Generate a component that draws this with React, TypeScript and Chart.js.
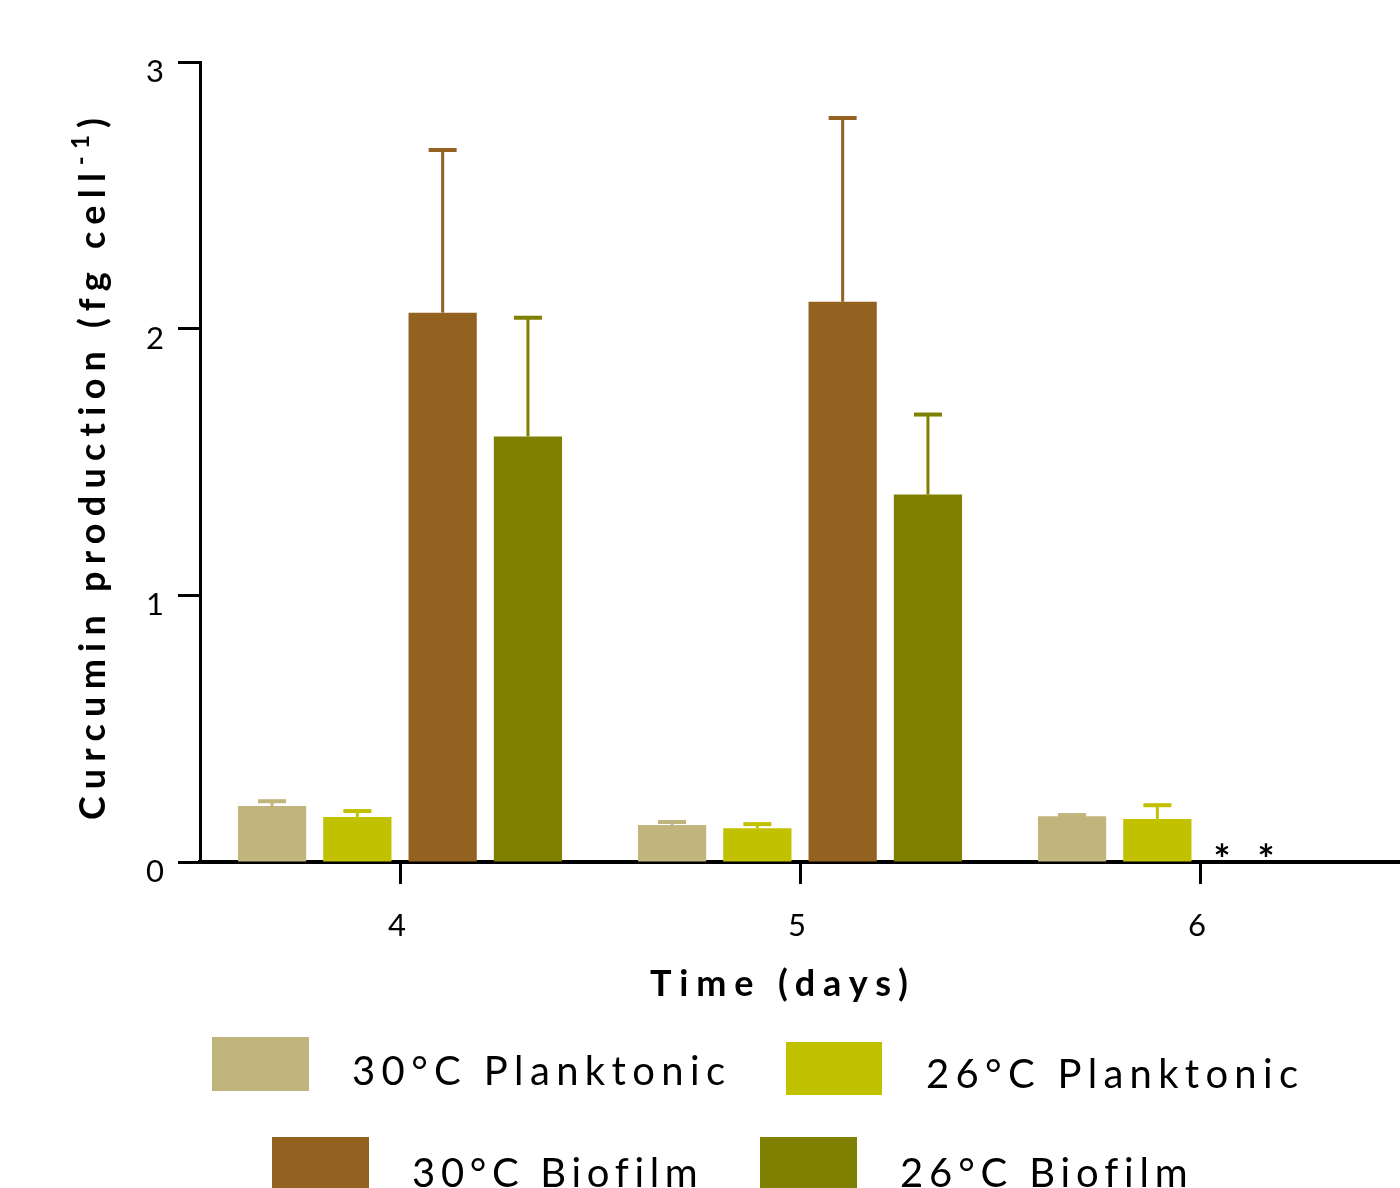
import React, { useEffect, useRef } from "react";
import { Chart, registerables } from "chart.js";

Chart.register(...registerables);

// ---- data ----
const days = ["4", "5", "6"];
const seriesLabels = ["30°C Planktonic", "26°C Planktonic", "30°C Biofilm", "26°C Biofilm"];
const seriesColors = ["#C0B67D", "#C2C100", "#946220", "#808000"];

const planktonic30 = [0.21, 0.139, 0.172];
const planktonic30Err = [0.018, 0.011, 0.004];
const planktonic26 = [0.169, 0.127, 0.161];
const planktonic26Err = [0.022, 0.015, 0.052];
const biofilm30 = [2.06, 2.101, null];
const biofilm30Err = [0.61, 0.689, null];
const biofilm26 = [1.596, 1.378, null];
const biofilm26Err = [0.445, 0.3, null];

const yTickValues = [0, 1, 2, 3];
// "*" marks: not detected (day 6, biofilm series)
const notDetectedDay = "6";
const notDetectedMarks = ["*", "*"];

const yTitleMain = "Curcumin production (fg cell";
const yTitleSup = "-1";
const yTitleEnd = ")";
const xTitle = "Time (days)";

const FONT = "Lato, 'Open Sans', sans-serif";

function spacedText(ctx: CanvasRenderingContext2D, text: string, x: number, y: number, target: number) {
  (ctx as any).letterSpacing = "0px";
  const w0 = ctx.measureText(text).width;
  const s = text.length > 1 ? (target - w0) / (text.length - 1) : 0;
  (ctx as any).letterSpacing = s + "px";
  ctx.fillText(text, x, y);
  (ctx as any).letterSpacing = "0px";
}

const errorBarPlugin = {
  id: "errorBars",
  afterDatasetsDraw(chart: any) {
    const ctx = chart.ctx;
    const yScale = chart.scales.y;
    const errs = [planktonic30Err, planktonic26Err, biofilm30Err, biofilm26Err];
    chart.data.datasets.forEach((ds: any, di: number) => {
      const meta = chart.getDatasetMeta(di);
      meta.data.forEach((bar: any, i: number) => {
        const v = ds.data[i];
        const e = errs[di][i];
        if (v == null || e == null) return;
        const yTop = yScale.getPixelForValue(v);
        const yErr = yScale.getPixelForValue(v + e);
        ctx.save();
        ctx.fillStyle = seriesColors[di];
        ctx.fillRect(bar.x - 1.5, yErr, 3, yTop - yErr);
        ctx.fillRect(bar.x - 14, yErr - 2, 28, 4);
        ctx.restore();
      });
    });
  },
  afterDraw(chart: any) {
    const ctx = chart.ctx as CanvasRenderingContext2D;
    const xScale = chart.scales.x;
    const yScale = chart.scales.y;
    ctx.save();
    ctx.fillStyle = "#000";

    // asterisks
    ctx.font = `bold 40px ${FONT}`;
    ctx.textAlign = "center";
    ctx.textBaseline = "alphabetic";
    const idx = days.indexOf(notDetectedDay);
    const cx = xScale.getPixelForValue(idx);
    const catW = xScale.width / days.length;
    const offs = [0.055, 0.165];
    const base = yScale.getPixelForValue(0);
    notDetectedMarks.forEach((m, k) => {
      ctx.fillText(m, cx + offs[k] * catW, base + 12);
    });

    // x title
    ctx.font = `bold 36px ${FONT}`;
    ctx.textAlign = "left";
    spacedText(ctx, xTitle, 650, 996, 258);

    // y title (rotated)
    ctx.save();
    ctx.translate(105, 820);
    ctx.rotate(-Math.PI / 2);
    ctx.textAlign = "left";
    const mainFont = `bold 36px ${FONT}`;
    const supFont = `bold 24px ${FONT}`;
    (ctx as any).letterSpacing = "0px";
    ctx.font = mainFont;
    const wm = ctx.measureText(yTitleMain).width;
    const wp = ctx.measureText(yTitleEnd).width;
    ctx.font = supFont;
    const ws = ctx.measureText(yTitleSup).width;
    const target = 702;
    const s = (target - wm - ws - wp) / (yTitleMain.length + yTitleSup.length);
    ctx.font = mainFont;
    (ctx as any).letterSpacing = s + "px";
    ctx.fillText(yTitleMain, 0, 0);
    let pos = wm + s * yTitleMain.length;
    ctx.font = supFont;
    ctx.fillText(yTitleSup, pos, -16);
    pos += ws + s * yTitleSup.length;
    ctx.font = mainFont;
    ctx.fillText(yTitleEnd, pos, 0);
    (ctx as any).letterSpacing = "0px";
    ctx.restore();

    // legend
    const items = [
      { box: [212, 1037, 97, 54], tx: 352, ty: 1085, tw: 373 },
      { box: [786, 1042, 96, 53], tx: 926, ty: 1088, tw: 372 },
      { box: [272, 1137, 97, 51], tx: 412, ty: 1187, tw: 285 },
      { box: [760, 1137, 97, 51], tx: 900, ty: 1187, tw: 287 },
    ];
    ctx.font = `40px ${FONT}`;
    ctx.textAlign = "left";
    items.forEach((it, i) => {
      ctx.fillStyle = seriesColors[i];
      ctx.fillRect(it.box[0], it.box[1], it.box[2], it.box[3]);
      ctx.fillStyle = "#000";
      spacedText(ctx, chart.data.datasets[i].label, it.tx, it.ty, it.tw);
    });
    ctx.restore();
  },
};

export default function App() {
  const ref = useRef<HTMLCanvasElement | null>(null);
  useEffect(() => {
    document.body.style.margin = "0";
    const canvas = ref.current!;
    const values = [planktonic30, planktonic26, biofilm30, biofilm26];
    const chart = new Chart(canvas, {
      type: "bar",
      data: {
        labels: days,
        datasets: seriesLabels.map((label, i) => ({
          label,
          data: values[i] as any,
          backgroundColor: seriesColors[i],
          borderWidth: 0,
          categoryPercentage: 0.853,
          barPercentage: 0.8,
        })),
      },
      options: {
        responsive: false,
        animation: false,
        devicePixelRatio: 1,
        layout: { padding: { top: 62, right: 0, left: 0, bottom: 0 } },
        plugins: { legend: { display: false }, tooltip: { enabled: false }, title: { display: false } },
        scales: {
          x: {
            grid: {
              display: true,
              drawOnChartArea: false,
              offset: false,
              tickLength: 22,
              tickWidth: 3,
              tickColor: "#000",
            },
            border: { display: true, color: "#000", width: 4 },
            ticks: { color: "#000", font: { family: FONT, size: 31 }, padding: 23, maxRotation: 0, labelOffset: -3 },
            afterFit: (scale: any) => {
              scale.height = 326;
            },
          },
          y: {
            min: 0,
            max: 3,
            afterBuildTicks: (scale: any) => {
              scale.ticks = yTickValues.map((v) => ({ value: v }));
            },
            grid: {
              display: true,
              drawOnChartArea: false,
              tickLength: 22,
              tickWidth: 3,
              tickColor: "#000",
            },
            border: { display: true, color: "#000", width: 3 },
            ticks: { color: "#000", font: { family: FONT, size: 31 }, padding: 14, labelOffset: 10 },
            afterFit: (scale: any) => {
              scale.width = 200;
            },
          },
        },
      },
      plugins: [errorBarPlugin],
    } as any);
    return () => chart.destroy();
  }, []);
  return (
    <div style={{ position: "absolute", left: 0, top: 0, width: 1400, height: 1188, background: "#fff" }}>
      <canvas ref={ref} width={1400} height={1188} style={{ display: "block" }} />
    </div>
  );
}
